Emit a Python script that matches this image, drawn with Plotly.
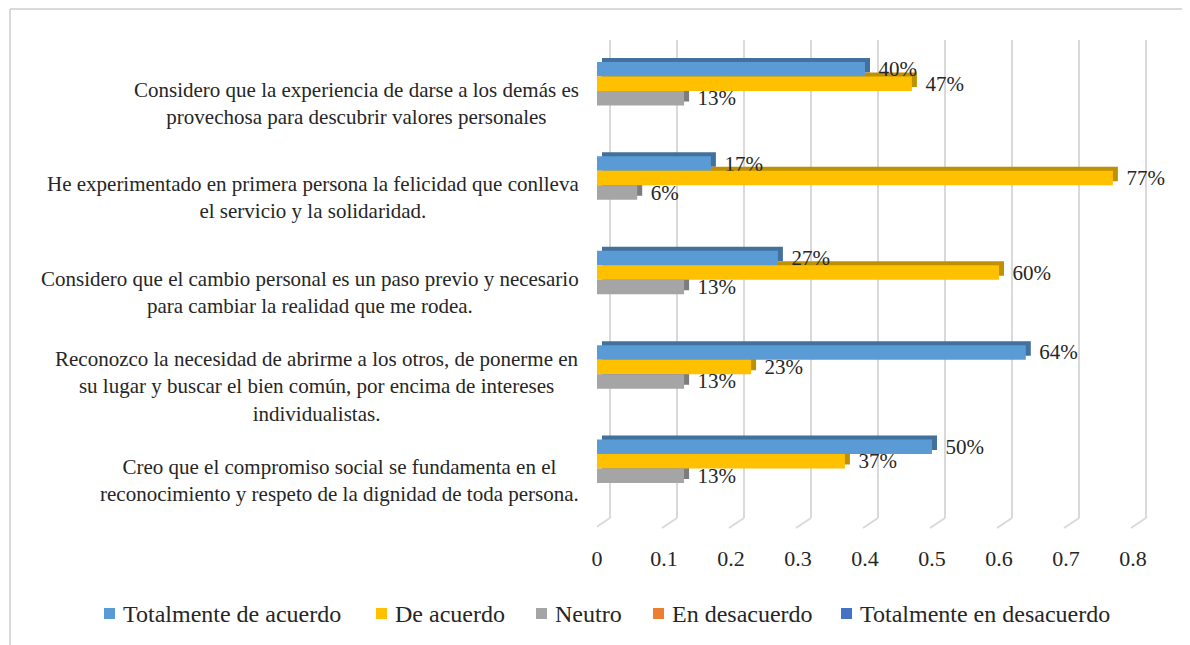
import plotly.graph_objects as go

categories = [
    "Considero que la experiencia de darse a los demás es<br>provechosa para descubrir valores personales",
    "He experimentado en primera persona la felicidad que conlleva<br>el servicio y la solidaridad.",
    "Considero que el cambio personal es un paso previo y necesario<br>para cambiar la realidad que me rodea.",
    "Reconozco la necesidad de abrirme a los otros, de ponerme en<br>su lugar y buscar el bien común, por encima de intereses<br>individualistas.",
    "Creo que el compromiso social se fundamenta en el<br>reconocimiento y respeto de la dignidad de toda persona.",
]
series_names = ["Totalmente de acuerdo", "De acuerdo", "Neutro", "En desacuerdo", "Totalmente en desacuerdo"]
totalmente_de_acuerdo = [0.40, 0.17, 0.27, 0.64, 0.50]
de_acuerdo = [0.47, 0.77, 0.60, 0.23, 0.37]
neutro = [0.13, 0.06, 0.13, 0.13, 0.13]
en_desacuerdo = [0, 0, 0, 0, 0]
totalmente_en_desacuerdo = [0, 0, 0, 0, 0]
x_ticks = [0, 0.1, 0.2, 0.3, 0.4, 0.5, 0.6, 0.7, 0.8]

colors = ["#5B9BD5", "#FFC000", "#A5A5A5", "#ED7D31", "#4472C4"]
side_colors = ["#41719C", "#BF9000", "#7C7C7C", "#AE5A21", "#2F528F"]
values = [totalmente_de_acuerdo, de_acuerdo, neutro, en_desacuerdo, totalmente_en_desacuerdo]

FONT = "Liberation Serif, Times New Roman, serif"
TXT = "#262626"
OFF = 8                      # page body margin
W, H = 1190 - OFF, 645 - OFF
# plot area in page pixels
L, R_EDGE, T, B_EDGE = 597, 1150, 51, 523
PX_PER_UNIT = 670.0
x_max = (R_EDGE - L) / PX_PER_UNIT
plot_h = B_EDGE - T
plot_w = R_EDGE - L
cat_px = plot_h / len(categories)


def px(xpage):
    return (xpage - L) / plot_w


def py(ypage):
    return (B_EDGE - ypage) / plot_h


bar_w = 14.5 / cat_px
n_series = len(series_names)
group_start = -bar_w * n_series / 2
depth_x = 5 / PX_PER_UNIT
depth_y = 4 / cat_px

fig = go.Figure()
# 3D-ish depth faces (drawn behind the front faces)
for i, (vals, col) in enumerate(zip(values, side_colors)):
    if not any(v > 0 for v in vals):
        continue
    fig.add_trace(go.Bar(
        y=categories, x=vals, base=[depth_x] * len(vals), orientation="h",
        offset=group_start + i * bar_w - depth_y, width=bar_w,
        marker=dict(color=col, line=dict(width=0)),
        showlegend=False, hoverinfo="skip",
    ))
# front faces
for i, (name, vals, col) in enumerate(zip(series_names, values, colors)):
    has = any(v > 0 for v in vals)
    fig.add_trace(go.Bar(
        y=categories, x=vals, name=name, orientation="h",
        offset=group_start + i * bar_w, width=bar_w,
        marker=dict(color=col, line=dict(width=0)),
        texttemplate="\u00a0\u00a0%{x:.0%}" if has else None,
        textposition="outside" if has else "none",
        constraintext="none",
        textfont=dict(family=FONT, size=21, color=TXT),
        cliponaxis=False, showlegend=False, hoverinfo="skip",
    ))

shapes = []
grid_col = "#D9D9D9"
dx_back = 13 / PX_PER_UNIT
dx_foot = -2 / PX_PER_UNIT
for t in x_ticks:
    shapes.append(dict(type="line", xref="x", yref="paper", x0=t + dx_back, x1=t + dx_back,
                       y0=py(518), y1=py(40), line=dict(color=grid_col, width=2), layer="below"))
    shapes.append(dict(type="line", xref="x", yref="paper", x0=t + dx_back, x1=t + dx_foot,
                       y0=py(518), y1=py(528), line=dict(color=grid_col, width=2), layer="below"))

# outer chart border (top and left visible)
shapes.append(dict(type="line", xref="paper", yref="paper", x0=px(10), x1=px(1200), y0=py(9), y1=py(9),
                   line=dict(color="#D9D9D9", width=2)))
shapes.append(dict(type="line", xref="paper", yref="paper", x0=px(10), x1=px(10), y0=py(9), y1=py(660),
                   line=dict(color="#D9D9D9", width=2)))

annotations = []
for c in categories:
    annotations.append(dict(xref="paper", yref="y", x=px(581), y=c, text=c, showarrow=False,
                            xanchor="right", yanchor="middle", align="center", yshift=-5,
                            font=dict(family=FONT, size=21, color=TXT)))

# legend (keys + labels) laid out like the reference
legend_square_x = [104, 376, 536, 653, 841]
for name, col, sx in zip(series_names, colors, legend_square_x):
    shapes.append(dict(type="rect", xref="paper", yref="paper", x0=px(sx), x1=px(sx + 11),
                       y0=py(619), y1=py(608), fillcolor=col, line=dict(width=0)))
    annotations.append(dict(xref="paper", yref="paper", x=px(sx + 17), y=py(613.5), text=name,
                            showarrow=False, xanchor="left", yanchor="middle",
                            font=dict(family=FONT, size=24, color=TXT)))

fig.update_layout(
    width=W, height=H,
    margin=dict(l=L - OFF, r=W - (R_EDGE - OFF), t=T - OFF, b=H - (B_EDGE - OFF), pad=0),
    paper_bgcolor="white", plot_bgcolor="white",
    barmode="overlay",
    shapes=shapes, annotations=annotations,
    showlegend=False,
    xaxis=dict(range=[0, x_max], tickvals=x_ticks, ticktext=[f"{t:g}" for t in x_ticks],
               showgrid=False, zeroline=False, showline=False, ticks="",
               ticklabelstandoff=20,
               tickfont=dict(family=FONT, size=22, color=TXT)),
    yaxis=dict(autorange="reversed", showticklabels=False, showgrid=False, zeroline=False,
               showline=False, ticks=""),
)

fig.write_html("out.html")
